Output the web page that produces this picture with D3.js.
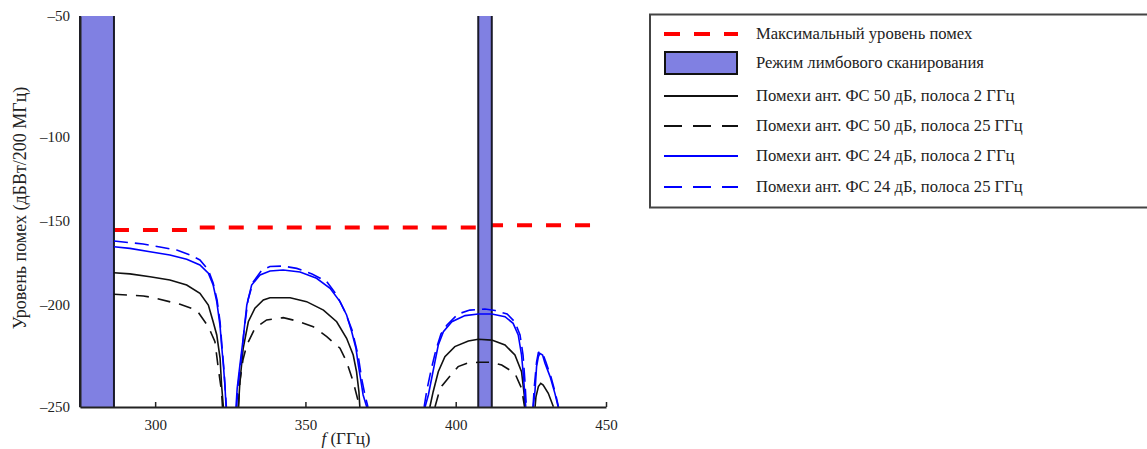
<!DOCTYPE html>
<html>
<head>
<meta charset="utf-8">
<script src="https://cdn.jsdelivr.net/npm/d3@7/dist/d3.min.js"></script>
<style>
  html, body { margin: 0; padding: 0; background: #fff; }
  svg { display: block; }
  text { font-family: "Liberation Serif", "DejaVu Serif", serif; fill: #222; }
</style>
</head>
<body>
<svg id="chart" width="1147" height="449"></svg>
<script>
// Frequency axis (GHz) and interference level axis (dBW / 200 MHz)
const xTicks = [300, 350, 400, 450];
const yTicks = [-250, -200, -150, -100, -50];

// Limb-sounding bands, GHz
const limbBands = [[275, 286.3], [407.5, 412.0]];

// Maximum permissible interference level
const maxLevel = [
  [286.3, -155.4], [312.0, -155.4], [312.8, -153.8],
  [409.7, -153.8], [409.8, -152.6], [445.5, -152.6]
];

// Antenna sidelobe 50 dB, 2 GHz band
const black2 = [
  [[286.3,-180.8],[291.6,-181.5],[298.3,-183.2],[304.9,-185.1],[310.5,-188.1],[314.9,-193.0],
   [317.7,-200.0],[319.3,-208.2],[320.5,-214.7],[321.6,-226.0],[322.1,-239.2],[322.7,-250]],
  [[327.7,-250],[328.2,-237.6],[329.3,-221.2],[331.0,-208.2],[333.2,-201.6],[336.0,-197.0],
   [338.2,-195.7],[344.9,-195.7],[350.4,-198.0],[356.0,-202.5],[360.4,-208.2],[363.7,-216.3],
   [365.9,-224.5],[367.0,-232.7],[367.8,-242.5],[368.1,-250]],
  [[391.4,-250],[392.5,-242.5],[394.2,-232.7],[396.4,-225.3],[399.7,-220.4],[404.2,-217.6],
   [407.5,-216.8],[412.0,-217.2],[416.4,-219.6],[419.7,-224.5],[421.9,-232.7],[422.8,-244.1],[423.0,-250]],
  [[426.4,-250],[426.7,-245.0],[427.5,-240.0],[428.3,-238.4],[429.1,-239.2],[430.8,-243.3],[432.5,-249.9]]
];

// Antenna sidelobe 50 dB, 25 GHz band
const black25 = [
  [[286.3,-193.6],[296.1,-194.6],[299.3,-195.6],[308.3,-199.6],[313.8,-202.5],[317.7,-210.6],
   [319.9,-218.0],[321.0,-230.9],[322.1,-242.5],[322.4,-250]],
  [[327.7,-250],[328.2,-237.7],[329.2,-227.0],[330.5,-219.6],[333.2,-211.4],[337.1,-207.3],
   [342.6,-206.2],[347.1,-207.8],[352.6,-210.6],[357.1,-215.5],[361.5,-221.2],[363.7,-227.8],
   [365.9,-237.6],[367.6,-247.4],[368.0,-250]],
  [[393.1,-250],[394.2,-244.1],[395.4,-239.7],[397.5,-235.9],[400.8,-230.2],[404.1,-228.4],
   [407.5,-228.1],[412.0,-228.1],[415.3,-229.4],[419.7,-233.5],[421.9,-240.8],[422.8,-249.0],[422.9,-250]]
];

// Antenna sidelobe 24 dB, 2 GHz band
const blue2 = [
  [[286.3,-165.3],[291.6,-166.3],[298.3,-168.3],[304.9,-170.2],[310.5,-172.8],[314.9,-176.2],
   [317.7,-181.1],[319.3,-188.1],[320.5,-198.0],[321.6,-210.3],[322.1,-219.6],[322.7,-229.4],
   [323.2,-239.2],[323.6,-250]],
  [[326.9,-250],[327.3,-240.8],[328.2,-229.4],[329.3,-216.3],[330.5,-200.0],[332.1,-188.1],
   [334.9,-182.1],[338.2,-179.8],[342.6,-179.2],[348.2,-180.4],[353.7,-184.1],[358.2,-190.1],
   [361.5,-198.0],[363.7,-204.9],[365.4,-213.1],[366.8,-221.2],[367.6,-229.4],[368.5,-237.6],
   [369.2,-244.1],[370.4,-250]],
  [[389.8,-250],[390.9,-244.1],[392.0,-235.9],[393.1,-227.8],[394.2,-219.6],[395.9,-213.1],
   [398.7,-208.2],[403.1,-205.2],[407.5,-204.4],[412.0,-204.4],[416.4,-205.7],[419.1,-209.0],
   [420.8,-214.7],[421.9,-224.5],[422.5,-234.3],[423.0,-244.1],[423.3,-250]],
  [[425.8,-250],[426.4,-241.7],[426.9,-230.2],[427.5,-225.3],[428.0,-223.7],[428.9,-224.5],
   [429.7,-228.6],[431.4,-235.1],[433.0,-243.3],[434.1,-250]]
];

// Antenna sidelobe 24 dB, 25 GHz band
const blue25 = [
  [[286.3,-161.9],[296.0,-163.7],[301.6,-165.5],[307.2,-167.3],[311.6,-170.2],[314.9,-173.2],
   [317.7,-179.2],[319.3,-186.9],[320.6,-197.0],[321.6,-208.3],[322.2,-219.6],[322.9,-231.9],[323.7,-250]],
  [[327.1,-250],[327.6,-239.2],[328.6,-227.0],[329.6,-212.3],[330.9,-197.0],[332.6,-186.3],
   [335.5,-179.2],[338.2,-177.1],[342.6,-176.8],[347.1,-178.2],[352.2,-181.5],[357.1,-186.1],
   [360.4,-194.0],[363.2,-203.4],[365.5,-212.3],[367.5,-224.5],[368.8,-236.8],[369.8,-244.1],[370.8,-250]],
  [[389.5,-250],[390.4,-241.7],[391.8,-231.9],[393.4,-222.1],[395.1,-214.2],[397.1,-209.8],
   [400.8,-204.4],[404.7,-202.5],[409.7,-202.0],[413.1,-202.7],[417.1,-204.4],[419.7,-208.3],
   [421.4,-214.7],[422.4,-224.5],[423.0,-236.8],[423.5,-250]],
  [[425.7,-250],[426.2,-239.2],[426.9,-228.0],[427.5,-223.3],[428.2,-222.8],[429.0,-224.0],
   [430.0,-228.0],[431.7,-235.3],[433.3,-244.1],[434.2,-250]]
];

const legendLabels = [
  "Максимальный уровень помех",
  "Режим лимбового сканирования",
  "Помехи ант. ФС 50 дБ, полоса 2 ГГц",
  "Помехи ант. ФС 50 дБ, полоса 25 ГГц",
  "Помехи ант. ФС 24 дБ, полоса 2 ГГц",
  "Помехи ант. ФС 24 дБ, полоса 25 ГГц"
];

const svg = d3.select("#chart");

const x = d3.scaleLinear().domain([275, 450]).range([80, 606]);
// Tick spacing on the level axis is uneven, so the scale is piecewise
const y = d3.scaleLinear().domain(yTicks).range([407, 305, 221, 137, 16]);

const bandFill = "#8080e2";
const line = d3.line().x(d => x(d[0])).y(d => y(d[1]));

// maximum level (drawn beneath the limb bands)
svg.append("path")
  .attr("d", line(maxLevel))
  .attr("fill", "none")
  .attr("stroke", "#ff0000")
  .attr("stroke-width", 4)
  .attr("stroke-dasharray", "15,14");

// limb bands
const bands = svg.append("g");
limbBands.forEach(([a, b]) => {
  bands.append("rect")
    .attr("x", x(a)).attr("y", y(-50))
    .attr("width", x(b) - x(a)).attr("height", y(-250) - y(-50))
    .attr("fill", bandFill);
  [a, b].forEach(f => {
    bands.append("line")
      .attr("x1", x(f)).attr("x2", x(f))
      .attr("y1", y(-50)).attr("y2", y(-250))
      .attr("stroke", "#1a1a2a").attr("stroke-width", 2);
  });
});

function drawSeries(lobes, color, dash, width) {
  const g = svg.append("g");
  lobes.forEach(pts => {
    g.append("path")
      .attr("d", line(pts))
      .attr("fill", "none")
      .attr("stroke", color)
      .attr("stroke-width", width)
      .attr("stroke-dasharray", dash);
  });
}
drawSeries(black25, "#111", "13,9", 1.6);
drawSeries(black2, "#111", null, 1.6);
drawSeries(blue25, "#0000ff", "14,7", 1.6);
drawSeries(blue2, "#0000ff", null, 1.6);

// axes
const xAxis = svg.append("g")
  .attr("transform", `translate(0,${y(-250)})`)
  .call(d3.axisBottom(x).tickValues(xTicks).tickSize(-5).tickSizeOuter(0).tickPadding(12));
xAxis.select(".domain").attr("stroke", "#222").attr("stroke-width", 2);
xAxis.selectAll(".tick line").attr("stroke", "#222").attr("stroke-width", 1.5);
xAxis.selectAll(".tick text").attr("font-size", 15).attr("font-family", "Liberation Serif").attr("fill", "#222");

const yAxis = svg.append("g")
  .attr("transform", `translate(${x(275)},0)`)
  .call(d3.axisLeft(y).tickValues(yTicks).tickSize(0).tickPadding(10)
    .tickFormat(d => "–" + Math.abs(d)));
yAxis.select(".domain").attr("stroke", "#222").attr("stroke-width", 2);
yAxis.selectAll(".tick text").attr("font-size", 15).attr("font-family", "Liberation Serif").attr("fill", "#222");

// axis titles
svg.append("text")
  .attr("transform", `translate(26,${y(-50) + 192}) rotate(-90)`)
  .attr("text-anchor", "middle")
  .attr("font-size", 18)
  .text("Уровень помех (дБВт/200 МГц)");

const xt = svg.append("text")
  .attr("x", (x(275) + x(450)) / 2 + 3)
  .attr("y", 444)
  .attr("text-anchor", "middle")
  .attr("font-size", 17);
xt.append("tspan").attr("font-style", "italic").text("f");
xt.append("tspan").text(" (ГГц)");

// legend
const lg = svg.append("g");
lg.append("rect")
  .attr("x", 650).attr("y", 14.5).attr("width", 520).attr("height", 193)
  .attr("fill", "#fff").attr("stroke", "#444").attr("stroke-width", 2);

const rowY = [34, 63, 96, 126, 156, 187];
const sym = [
  { kind: "line", color: "#ff0000", dash: "16,14", w: 4 },
  { kind: "rect" },
  { kind: "line", color: "#111", dash: null, w: 2 },
  { kind: "line", color: "#111", dash: "18,11", w: 2 },
  { kind: "line", color: "#0000ff", dash: null, w: 2 },
  { kind: "line", color: "#0000ff", dash: "18,11", w: 2 }
];
legendLabels.forEach((label, i) => {
  const cy = rowY[i];
  const s = sym[i];
  if (s.kind === "rect") {
    lg.append("rect")
      .attr("x", 665).attr("y", cy - 11).attr("width", 72).attr("height", 22)
      .attr("fill", bandFill).attr("stroke", "#111").attr("stroke-width", 2);
  } else {
    lg.append("line")
      .attr("x1", 664).attr("x2", 738).attr("y1", cy).attr("y2", cy)
      .attr("stroke", s.color).attr("stroke-width", s.w)
      .attr("stroke-dasharray", s.dash);
  }
  lg.append("text")
    .attr("x", 756).attr("y", cy + 5)
    .attr("font-size", 16.6)
    .text(label);
});
</script>
</body>
</html>
